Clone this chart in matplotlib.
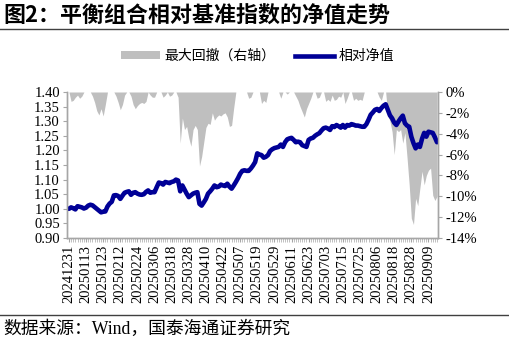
import matplotlib
matplotlib.use("Agg")
import matplotlib.pyplot as plt
from matplotlib.lines import Line2D
from matplotlib.patches import Patch
from matplotlib.ticker import FuncFormatter

plt.rcParams['font.family'] = ['Liberation Serif', 'Noto Sans CJK SC']

# 相对净值 (daily, 20241231 - 20250915)
net_value = [
    1.000, 1.005, 1.002, 0.998, 1.009, 1.007, 1.005, 1.001, 1.004, 1.011,
    1.014, 1.012, 1.006, 1.000, 0.994, 0.988, 0.990, 0.991, 1.008, 1.018,
    1.024, 1.046, 1.047, 1.044, 1.034, 1.045, 1.055, 1.058, 1.060, 1.048,
    1.055, 1.057, 1.052, 1.049, 1.048, 1.050, 1.058, 1.063, 1.055, 1.057,
    1.057, 1.074, 1.090, 1.088, 1.083, 1.092, 1.090, 1.088, 1.092, 1.094,
    1.100, 1.097, 1.060, 1.080, 1.066, 1.052, 1.040, 1.046, 1.052, 1.055,
    1.057, 1.017, 1.011, 1.022, 1.034, 1.052, 1.060, 1.069, 1.080, 1.074,
    1.076, 1.083, 1.080, 1.078, 1.086, 1.076, 1.069, 1.080, 1.092, 1.105,
    1.120, 1.130, 1.132, 1.130, 1.130, 1.138, 1.148, 1.160, 1.190, 1.186,
    1.184, 1.175, 1.178, 1.184, 1.198, 1.204, 1.208, 1.210, 1.212, 1.220,
    1.212, 1.228, 1.238, 1.241, 1.243, 1.236, 1.228, 1.230, 1.228, 1.218,
    1.215, 1.212, 1.236, 1.241, 1.243, 1.250, 1.255, 1.259, 1.268, 1.276,
    1.278, 1.275, 1.270, 1.283, 1.280, 1.287, 1.283, 1.278, 1.287, 1.278,
    1.287, 1.285, 1.290, 1.288, 1.285, 1.285, 1.283, 1.281, 1.281, 1.290,
    1.305, 1.322, 1.330, 1.339, 1.342, 1.335, 1.345, 1.353, 1.358, 1.339,
    1.320, 1.310, 1.295, 1.287, 1.299, 1.310, 1.319, 1.293, 1.285, 1.281,
    1.247, 1.225, 1.207, 1.220, 1.212, 1.240, 1.260, 1.247, 1.264, 1.262,
    1.260, 1.245, 1.228,
]

# 最大回撤 (%), right axis
max_drawdown = [
    0.0, -0.9, -0.8, -0.5, -0.3, -0.6, -0.4, 0.0, 0.0, 0.0,
    0.0, -0.4, -1.0, -1.8, -2.2, -1.6, -2.3, -1.2, 0.0, 0.0,
    0.0, 0.0, -0.4, -1.0, -1.7, -1.2, -0.3, 0.0, 0.0, -0.4,
    -1.2, -1.6, -1.3, -1.1, -1.0, -1.1, -0.9, 0.0, -0.3, -0.5,
    -0.5, 0.0, 0.0, 0.0, -0.5, -0.3, 0.0, -0.4, -0.3, 0.0,
    0.0, -0.5, -4.9, -2.5, -3.6, -3.3, -4.4, -5.2, -3.6, -3.2,
    -3.6, -7.1, -6.2, -4.8, -3.4, -3.0, -3.1, -2.0, -2.7, -2.4,
    -2.2, -2.3, -2.1, -2.0, -2.4, -3.3, -3.2, -1.5, 0.0, 0.0,
    0.0, 0.0, 0.0, 0.0, -0.6, -0.5, 0.0, 0.0, 0.0, 0.0,
    -1.1, -0.8, -1.0, 0.0, 0.0, 0.0, 0.0, 0.0, 0.0, -0.6,
    0.0, 0.0, -0.2, 0.0, 0.0, 0.0, -0.4, -0.8, -1.4, -1.9,
    -2.4, -1.6, -1.1, -0.6, 0.0, 0.0, -0.6, -0.5, 0.0, 0.0,
    -0.9, -0.7, -0.9, -0.3, -0.8, -0.7, -0.4, -0.5, 0.0, -1.1,
    -0.6, 0.0, 0.0, -0.8, -0.6, -0.8, -0.7, -0.8, 0.0, 0.0,
    0.0, 0.0, 0.0, 0.0, 0.0, -0.5, -0.8, 0.0, 0.0, -2.2,
    -2.8, -3.8, -6.0, -3.6, -3.8, -3.6, -4.9, -3.9, -6.3, -8.9,
    -12.1, -12.7, -10.2, -10.9, -9.2, -7.6, -8.9, -8.0, -7.5, -7.3,
    -9.9, -10.4, -10.0,
]

tick_labels = [
    "20241231", "20250113", "20250123", "20250212", "20250224", "20250306",
    "20250318", "20250328", "20250410", "20250422", "20250507", "20250519",
    "20250529", "20250611", "20250623", "20250703", "20250715", "20250725",
    "20250806", "20250818", "20250828", "20250909",
]
tick_step = 8

navy = "#000096"
gray_fill = "#bfbfbf"
axis_gray = "#a6a6a6"
cjk = ['Noto Sans CJK SC', 'DejaVu Sans']

x = list(range(len(net_value)))

fig = plt.figure(figsize=(5.10, 3.42), dpi=100)
ax = fig.add_axes([0.131, 0.304, 0.728, 0.427])
ax2 = ax.twinx()

ax2.fill_between(x, max_drawdown, 0, color=gray_fill, linewidth=0)
ax.plot(x, net_value, color=navy, linewidth=3.3, solid_capstyle="round")

ax.set_zorder(ax2.get_zorder() + 1)
ax.patch.set_visible(False)

ax.set_xlim(-1, len(net_value) - 0.5)
ax.set_ylim(0.90, 1.40)
ax.set_yticks([0.90 + 0.05 * k for k in range(11)])
ax.yaxis.set_major_formatter(FuncFormatter(lambda v, p: f"{v:.2f}"))
ax2.set_ylim(-14, 0)
ax2.set_yticks(range(-14, 1, 2))
ax2.yaxis.set_major_formatter(FuncFormatter(lambda v, p: f"{v:.0f}%"))

ax.set_xticks(range(0, len(net_value), tick_step)[:len(tick_labels)])
ax.set_xticklabels(tick_labels, rotation=90)
ax.set_xticks(x, minor=True)

for a in (ax, ax2):
    a.spines["top"].set_visible(False)
    for side in ("left", "right", "bottom"):
        a.spines[side].set_color(axis_gray)
        a.spines[side].set_linewidth(1.0)
    a.tick_params(axis="both", which="both", colors=axis_gray, labelcolor="black",
                  labelsize=10.5, length=3, width=0.8, direction="out", pad=2)
ax.tick_params(axis="x", which="minor", length=3, width=0.5)

handles = [Patch(facecolor=gray_fill, edgecolor="none"),
           Line2D([], [], color=navy, linewidth=3.3)]
fig.legend(handles, ["最大回撤（右轴）", "相对净值"], loc="center",
           bbox_to_anchor=(0.505, 0.836), ncol=2, frameon=False,
           prop={"family": cjk, "size": 10}, handlelength=2.8,
           handleheight=0.5, handletextpad=0.35, columnspacing=1.4)

fig.text(0.006, 0.953, "图2：平衡组合相对基准指数的净值走势", ha="left", va="center",
         fontsize=15.8, fontweight="bold", family=cjk)
fig.add_artist(Line2D([0, 1], [0.914, 0.914], color="#404040", linewidth=1.0,
                      transform=fig.transFigure))
fig.add_artist(Line2D([0, 1], [0.079, 0.079], color="#404040", linewidth=1.0,
                      transform=fig.transFigure))
fig.text(0.006, 0.038, "数据来源：Wind，国泰海通证券研究", ha="left", va="center",
         fontsize=12.8, family=['Liberation Serif', 'Noto Sans CJK SC'])

fig.savefig("out.png", dpi=100)
